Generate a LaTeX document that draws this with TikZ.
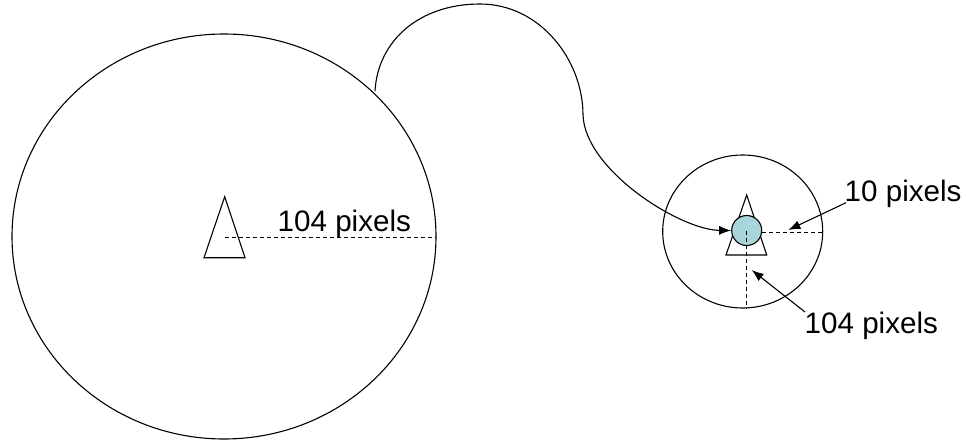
\documentclass[tikz,border=0pt]{standalone}
\usepackage{fontspec}
\setmainfont{Liberation Sans}
\usetikzlibrary{arrows.meta,shapes.geometric}
\definecolor{lblue}{HTML}{A8D5DA}
\begin{document}
\begin{tikzpicture}[x=1pt,y=-1pt,
  line/.style={line width=1.1pt,black},
  dim/.style={line width=1pt,dash pattern=on 4pt off 3pt},
  lbl/.style={inner sep=0pt,anchor=base west,font=\fontsize{29.6}{34}\selectfont},
  arr/.style={line width=1.1pt,-{Latex[length=12pt,width=9pt]}}]
\useasboundingbox (0,0) rectangle (966,444);
% large circle
\node[line,draw,ellipse,minimum width=424pt,minimum height=405pt,inner sep=0pt] (big) at (224,236.5) {};
\coordinate (bc) at (224.7,237.7);
\draw[line] (224.7,196.7) -- (245,257.7) -- (204,257.7) -- cycle;
\coordinate (be) at (436,237.7);
\draw[dim] (bc) -- (be);
\node[lbl] (lab1) at (277.5,231.8) {104 pixels};
% small circle
\node[line,draw,ellipse,minimum width=160pt,minimum height=153pt,inner sep=0pt] (small) at (742.7,231.5) {};
\draw[line] (746.7,195) -- (766.7,255) -- (726,255) -- cycle;
\node[line,draw,circle,fill=lblue,minimum size=30pt,inner sep=0pt] (blue) at (746.7,230.5) {};
\coordinate (se) at (822.7,232.7);
\coordinate (sb) at (746.7,308);
\draw[dim] (blue.east |- se) -- (se);
\draw[dim] (blue.center) -- (sb);
% labels with arrows
\node[lbl] (lab2) at (844.5,201.5) {10 pixels};
\node[lbl] (lab3) at (804.5,333) {104 pixels};
\coordinate (a2s) at (846,202.7);
\coordinate (a2e) at (788.3,230);
\coordinate (a3s) at (805,312);
\coordinate (a3e) at (751.7,270);
\draw[arr] (a2s) -- (a2e);
\draw[arr] (a3s) -- (a3e);
% curved connector
\coordinate (cs) at (375,91);
\draw[arr] (cs) .. controls (378,40) and (420,4) .. (480,4)
  .. controls (540,4) and (583,60) .. (583,115)
  .. controls (585,170) and (680,230) .. (blue.west);
\end{tikzpicture}
\end{document}
